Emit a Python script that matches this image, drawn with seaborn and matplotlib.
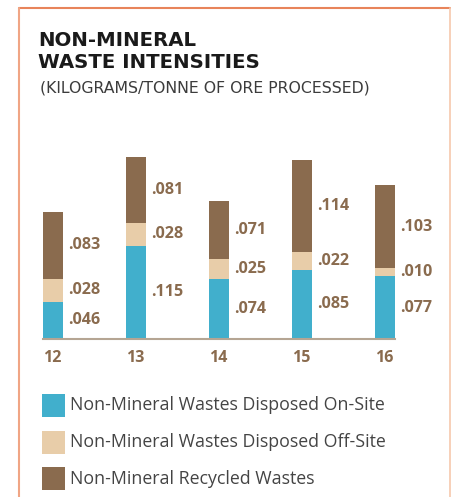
import matplotlib.pyplot as plt
import seaborn as sns
import pandas as pd
from matplotlib.patches import Rectangle
from matplotlib.lines import Line2D

# data
years = ['12', '13', '14', '15', '16']
on_site = [0.046, 0.115, 0.074, 0.085, 0.077]
off_site = [0.028, 0.028, 0.025, 0.022, 0.010]
recycled = [0.083, 0.081, 0.071, 0.114, 0.103]
series_names = ['Non-Mineral Wastes Disposed On-Site',
                'Non-Mineral Wastes Disposed Off-Site',
                'Non-Mineral Recycled Wastes']

blue = '#41afcc'
beige = '#e8cda9'
brown = '#8a6b4e'
label_col = '#8a6b4e'

sns.set_theme(style='white')
plt.rcParams['font.family'] = ['Open Sans', 'DejaVu Sans']

df = pd.DataFrame({'year': years, 'on': on_site, 'off': off_site, 'rec': recycled})
df['lvl1'] = df['on']
df['lvl2'] = df['on'] + df['off']
df['lvl3'] = df['lvl2'] + df['rec']

W, H = 451, 497
fig = plt.figure(figsize=(W / 100, H / 100), dpi=100)

# axes placement in pixels
x0, x1 = 43, 395
base_y, top_y = 339, 136
ax = fig.add_axes([x0 / W, (H - base_y) / H, (x1 - x0) / W, (base_y - top_y) / H])

bw = 0.24
# stacked by overdrawing cumulative totals
sns.barplot(data=df, x='year', y='lvl3', color=brown, width=bw, saturation=1, ax=ax)
sns.barplot(data=df, x='year', y='lvl2', color=beige, width=bw, saturation=1, ax=ax)
sns.barplot(data=df, x='year', y='lvl1', color=blue, width=bw, saturation=1, ax=ax)
for p in ax.patches:
    p.set_edgecolor('none')

ax.set_xlim(-bw / 2, len(years) - 1 + bw / 2)
ax.set_ylim(0, 0.25)
ax.set_xlabel('')
ax.set_ylabel('')
ax.set_yticks([])
ax.set_xticks([i - bw / 2 for i in range(len(years))])
ax.set_xticklabels(years, ha='left', fontsize=11.5, fontweight='bold', color=label_col)
ax.tick_params(axis='x', length=0, pad=8)
for s in ['top', 'right', 'left']:
    ax.spines[s].set_visible(False)
ax.spines['bottom'].set_color('#b5a593')
ax.spines['bottom'].set_linewidth(1.5)
ax.patch.set_alpha(0)

# value labels, centred in each segment
for i in range(len(years)):
    lo = 0
    for v in [on_site[i], off_site[i], recycled[i]]:
        ax.text(i + bw / 2 + 0.065, lo + v / 2, ('%.3f' % v)[1:], ha='left', va='center',
                fontsize=11.6, fontweight='bold', color=label_col, clip_on=False)
        lo += v

# title
wide_font = ['DejaVu Sans']
fig.text(38 / W, 1 - 40 / H, 'NON-MINERAL', fontsize=14.2, fontweight='bold',
         color='#1a1a1a', va='center', ha='left', family=wide_font)
fig.text(38 / W, 1 - 62 / H, 'WASTE INTENSITIES', fontsize=14.2, fontweight='bold',
         color='#1a1a1a', va='center', ha='left', family=wide_font)
fig.text(40 / W, 1 - 88 / H, '(KILOGRAMS/TONNE OF ORE PROCESSED)', fontsize=11.3,
         color='#3c3c3c', va='center', ha='left', family=wide_font)

# legend
for k, (name, c) in enumerate(zip(series_names, [blue, beige, brown])):
    yc = 405.5 + k * 36.5
    fig.patches.append(Rectangle((42 / W, 1 - (yc + 11.5) / H), 23 / W, 23 / H,
                                 transform=fig.transFigure, facecolor=c, edgecolor='none'))
    fig.text(70 / W, 1 - yc / H, name, fontsize=12.8, color='#444444', va='center', ha='left')

# border
fig.add_artist(Line2D([19 / W, 450 / W], [1 - 8 / H, 1 - 8 / H], transform=fig.transFigure,
                      color='#e8845a', lw=1.5))
fig.add_artist(Line2D([19 / W, 19 / W], [1 - 8 / H, 0], transform=fig.transFigure,
                      color='#f0a585', lw=1.5))
fig.add_artist(Line2D([450 / W, 450 / W], [1 - 8 / H, 0], transform=fig.transFigure,
                      color='#f6c8ad', lw=1.2))

fig.savefig('out.png', dpi=100)
